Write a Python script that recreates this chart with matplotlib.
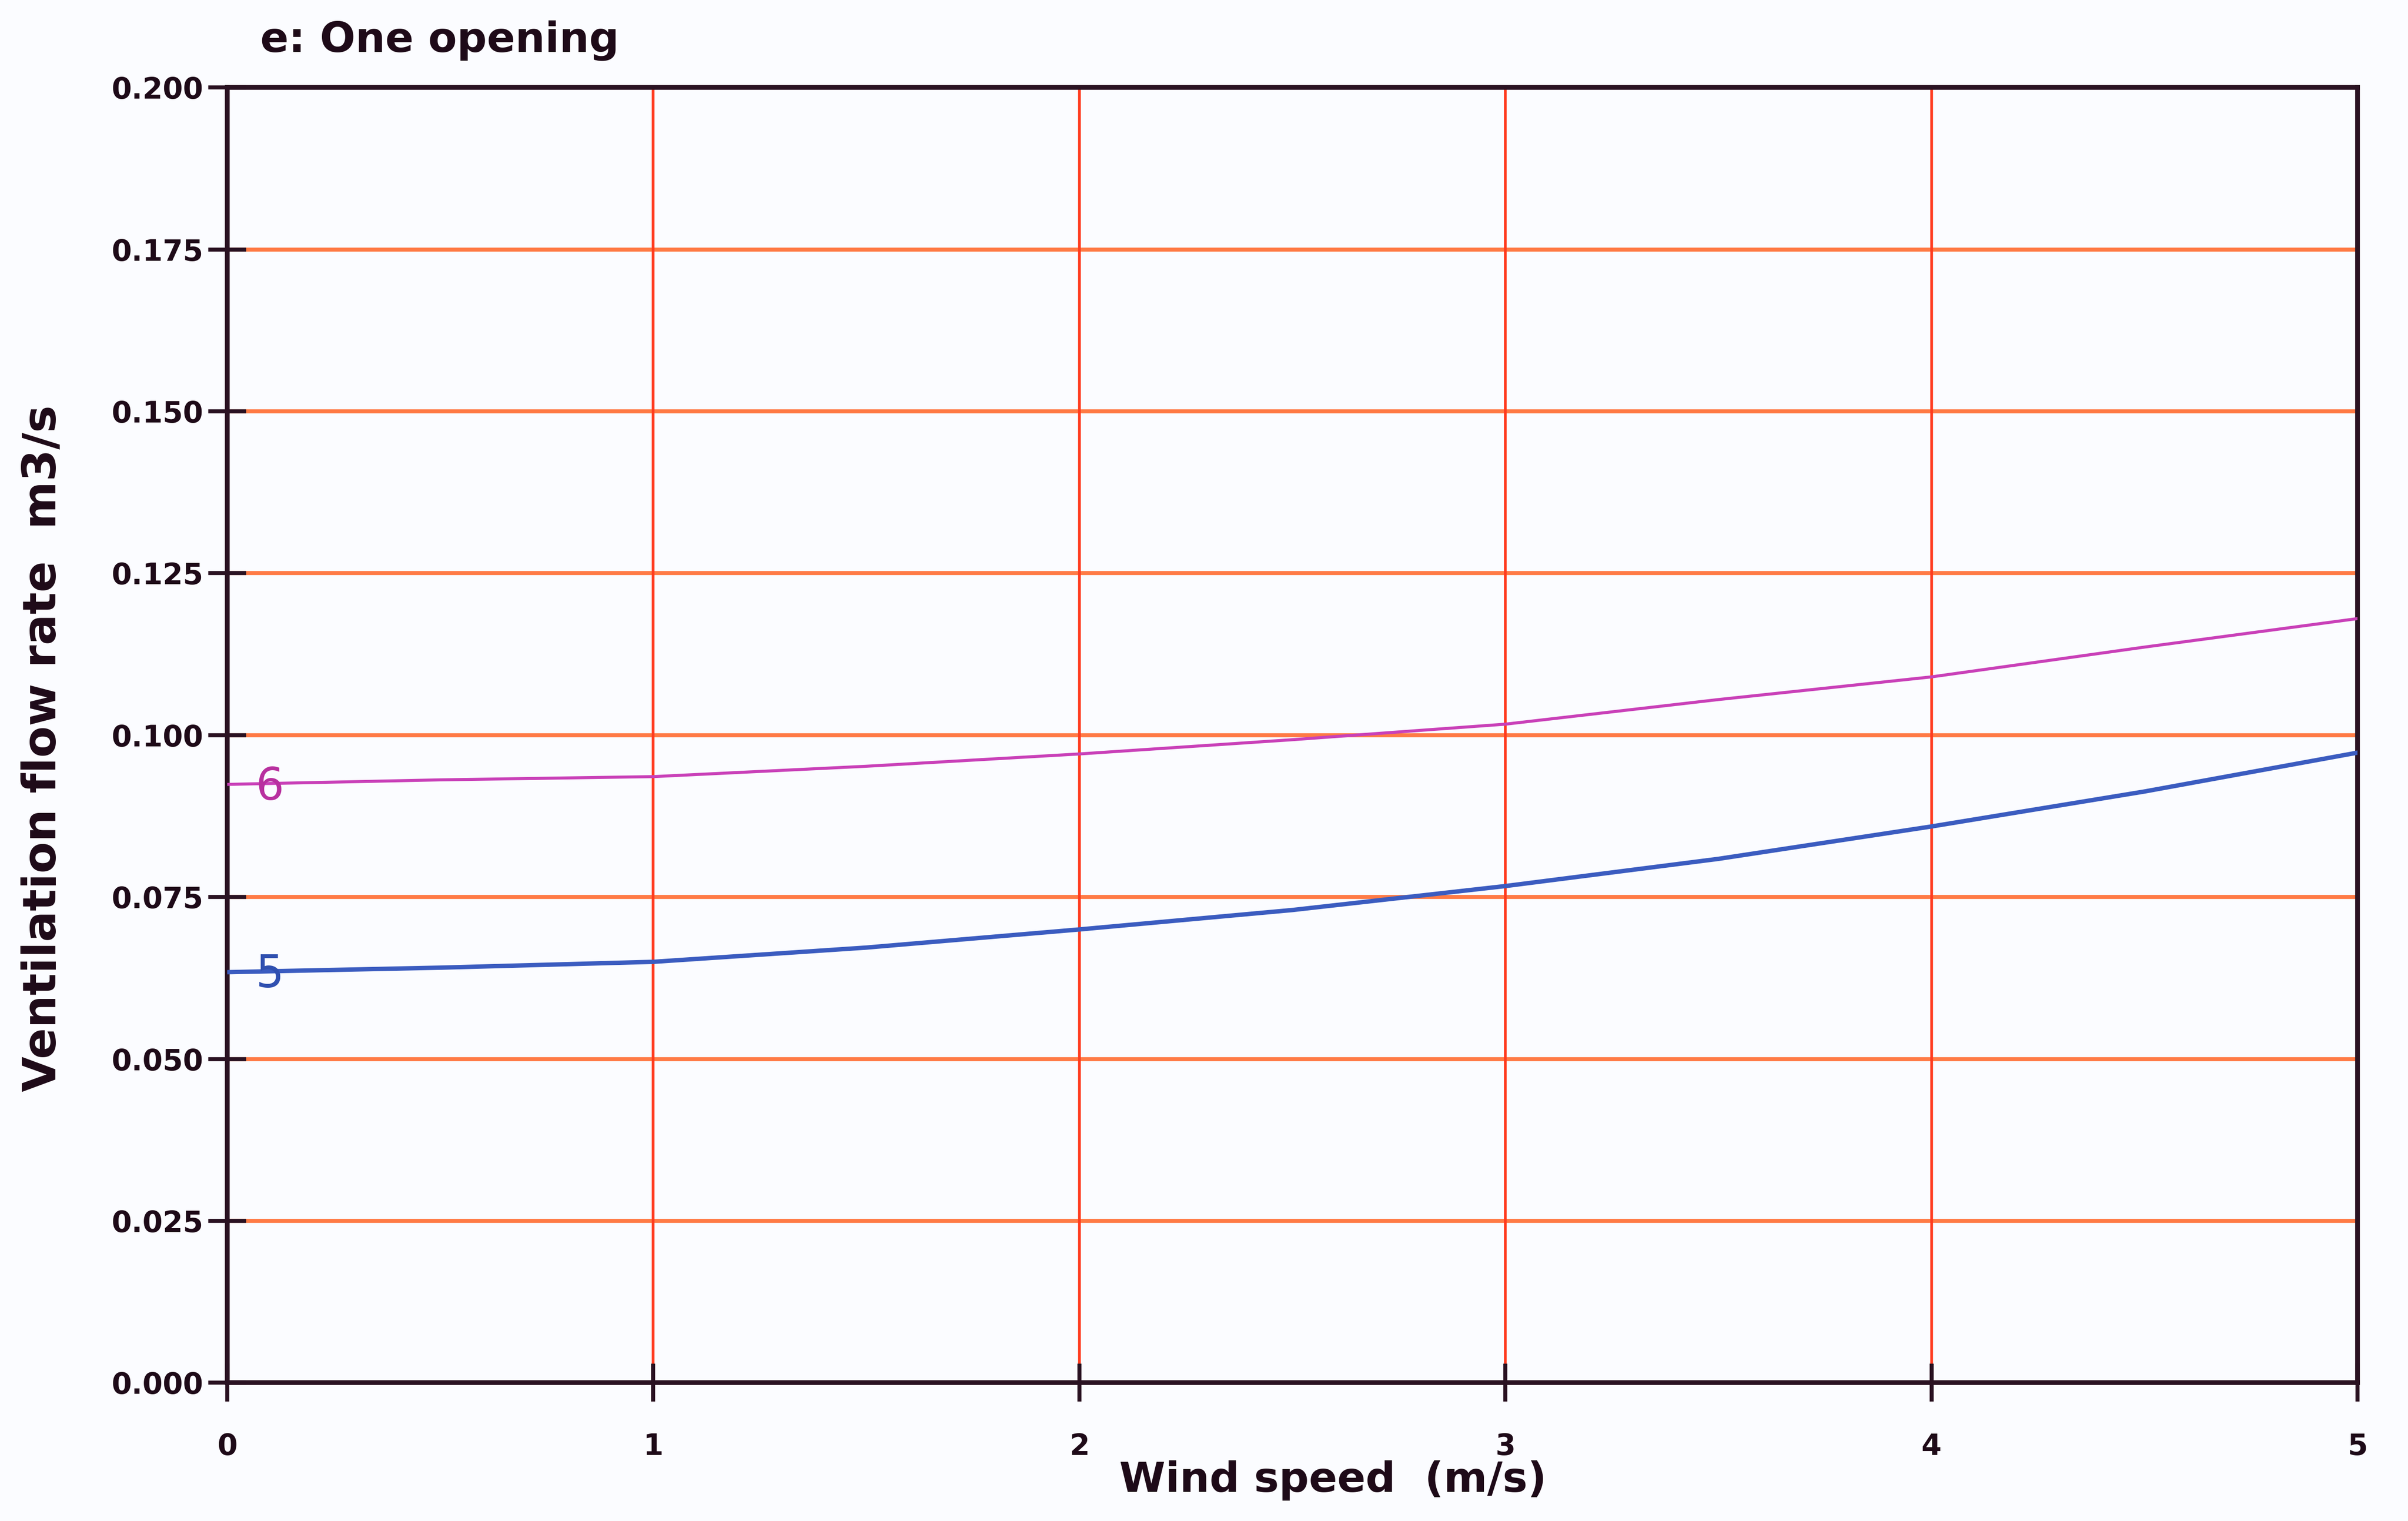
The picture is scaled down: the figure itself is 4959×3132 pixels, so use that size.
import matplotlib
matplotlib.use("Agg")
import matplotlib.pyplot as plt
from matplotlib.ticker import FixedLocator, FuncFormatter

# ---- data ----
wind_speed = [0, 0.5, 1, 1.5, 2, 2.5, 3, 3.5, 4, 4.5, 5]
flow_6 = [0.0924, 0.0931, 0.0936, 0.0952, 0.0971, 0.0993, 0.1017, 0.1055, 0.1090, 0.1136, 0.1180]
flow_5 = [0.0634, 0.0641, 0.0650, 0.0672, 0.0700, 0.0730, 0.0767, 0.0809, 0.0859, 0.0913, 0.0973]
x_ticks = [0, 1, 2, 3, 4, 5]
y_ticks = [0.000, 0.025, 0.050, 0.075, 0.100, 0.125, 0.150, 0.175, 0.200]
title = "e: One opening"
x_label = "Wind speed  (m/s)"
y_label = "Ventilation flow rate  m3/s"

plt.rcParams['font.family'] = ['DejaVu Sans']

fig = plt.figure(figsize=(49.59, 31.32), dpi=100, facecolor='#fbfcff')
ax = fig.add_axes([0.0944, 0.0909, 0.8846, 0.8515])
ax.set_facecolor('#fbfcff')

ax.set_xlim(0, 5)
ax.set_ylim(0, 0.2)

# grid
for yv in y_ticks[1:-1]:
    ax.axhline(yv, color='#ff7a45', lw=6.0, zorder=1)
for xv in x_ticks[1:-1]:
    ax.axvline(xv, color='#ff3a1e', lw=4.0, zorder=1)

ax.plot(wind_speed, flow_6, color='#c940b8', lw=4.5, zorder=3)
ax.plot(wind_speed, flow_5, color='#3b5cc0', lw=6.5, zorder=3)

ax.text(0.1, flow_6[0] - 0.0004, "6", color='#b8309f', fontsize=66, ha='center', va='center', zorder=4)
ax.text(0.1, flow_5[0] - 0.0004, "5", color='#3050b0', fontsize=66, ha='center', va='center', zorder=4)

for s in ax.spines.values():
    s.set_linewidth(7)
    s.set_color('#2a1222')

ax.xaxis.set_major_locator(FixedLocator(x_ticks))
ax.yaxis.set_major_locator(FixedLocator(y_ticks))
ax.xaxis.set_major_formatter(FuncFormatter(lambda v, p: f"{v:.0f}"))
ax.yaxis.set_major_formatter(FuncFormatter(lambda v, p: f"{v:.3f}"))
ax.tick_params(axis='both', direction='inout', length=56, width=6, color='#2a1222',
               labelsize=43, labelcolor='#1e0a18')
ax.tick_params(axis='y', pad=8)
ax.tick_params(axis='x', pad=46)
for lab in ax.get_xticklabels() + ax.get_yticklabels():
    lab.set_fontweight('bold')

ax.set_xlabel(x_label, fontsize=62, fontweight='bold', color='#1e0a18')
ax.xaxis.set_label_coords(0.519, -0.060)
ax.set_ylabel(y_label, fontsize=68, fontweight='bold', color='#1e0a18')
ax.yaxis.set_label_coords(-0.076, 0.49)

fig.text(0.108, 0.966, title, fontsize=62, fontweight='bold', color='#1e0a18',
         ha='left', va='baseline')

fig.savefig("out.png", dpi=100, facecolor=fig.get_facecolor())
